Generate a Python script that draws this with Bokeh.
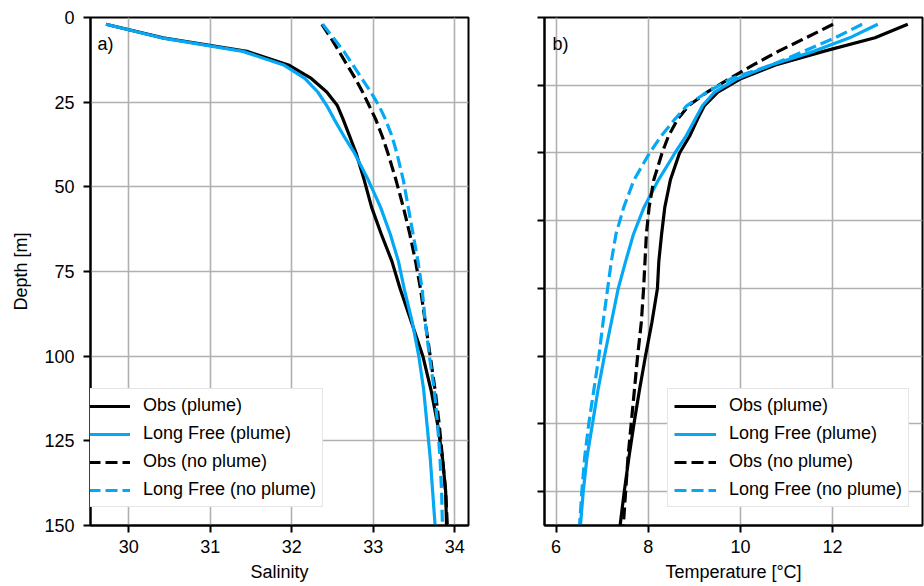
from bokeh.plotting import figure
from bokeh.layouts import row
from bokeh.models import Range1d, FixedTicker, Legend, LegendItem, Label
from bokeh.embed import file_html
from bokeh.resources import INLINE

# ---------------- data ----------------
depth = [2, 6, 10, 14, 18, 22, 26, 30, 35, 40, 48, 56, 64, 72, 80, 90,
         100, 110, 120, 130, 140, 150]

sal_obs_plume = [29.72, 30.42, 31.45, 31.96, 32.24, 32.43, 32.56, 32.63, 32.71,
                 32.79, 32.89, 32.98, 33.10, 33.23, 33.33, 33.47, 33.61, 33.71,
                 33.79, 33.85, 33.89, 33.90]
sal_lf_plume = [29.72, 30.40, 31.40, 31.90, 32.16, 32.32, 32.43, 32.52, 32.64,
                32.77, 32.94, 33.09, 33.21, 33.31, 33.38, 33.48, 33.56, 33.62,
                33.66, 33.70, 33.73, 33.76]
sal_obs_noplume = [32.37, 32.48, 32.58, 32.68, 32.78, 32.87, 32.95, 33.03, 33.11,
                   33.18, 33.28, 33.37, 33.45, 33.52, 33.58, 33.64, 33.70, 33.76,
                   33.81, 33.85, 33.89, 33.91]
sal_lf_noplume = [32.38, 32.51, 32.64, 32.75, 32.86, 32.97, 33.07, 33.15, 33.23,
                  33.29, 33.37, 33.43, 33.49, 33.55, 33.60, 33.64, 33.69, 33.75,
                  33.79, 33.82, 33.84, 33.85]

temp_obs_plume = [13.63, 12.92, 11.80, 10.76, 10.02, 9.51, 9.22, 9.07, 8.90,
                  8.68, 8.48, 8.36, 8.29, 8.23, 8.20, 8.08, 7.94, 7.81, 7.69,
                  7.58, 7.48, 7.39]
temp_lf_plume = [12.98, 12.37, 11.59, 10.67, 9.94, 9.44, 9.18, 9.02, 8.82,
                 8.58, 8.22, 7.91, 7.68, 7.51, 7.35, 7.20, 7.05, 6.91, 6.79,
                 6.67, 6.59, 6.53]
temp_obs_noplume = [12.01, 11.42, 10.82, 10.28, 9.77, 9.28, 8.88, 8.64, 8.44,
                    8.30, 8.12, 8.02, 7.96, 7.93, 7.90, 7.85, 7.77, 7.70, 7.63,
                    7.56, 7.51, 7.46]
temp_lf_noplume = [12.64, 12.05, 11.37, 10.68, 9.81, 9.28, 8.84, 8.58, 8.28,
                   8.03, 7.69, 7.47, 7.30, 7.20, 7.12, 7.02, 6.93, 6.82, 6.71,
                   6.62, 6.56, 6.51]

labels = ["Obs (plume)", "Long Free (plume)", "Obs (no plume)", "Long Free (no plume)"]

sal_ticks = [30, 31, 32, 33, 34]
temp_ticks = [6, 8, 10, 12]
depth_ticks_a = [0, 25, 50, 75, 100, 125, 150]
depth_ticks_b = [0, 20, 40, 60, 80, 100, 120, 140]

# ---------------- styling ----------------
FONT = "Liberation Sans"
FS = "18px"
BLACK = "#000000"
BLUE = "#05A8F5"
GRID = "#b0b0b0"
LW = 3.2
DASH = "12 5"


def make_fig(width, xr, border_left, border_right, xticks, yticks, xlabel,
             ylabel, show_ylabels):
    p = figure(width=width, height=586, x_range=Range1d(*xr),
               y_range=Range1d(150, 0), output_backend="svg",
               toolbar_location=None, min_border_left=border_left,
               min_border_right=border_right, min_border_top=17,
               min_border_bottom=61)
    p.background_fill_color = "white"
    p.border_fill_color = "white"
    p.outline_line_color = BLACK
    p.outline_line_width = 2
    p.outline_line_alpha = 1.0

    p.xaxis.ticker = FixedTicker(ticks=xticks)
    p.yaxis.ticker = FixedTicker(ticks=yticks)
    for ax in (p.xaxis, p.yaxis):
        ax.axis_line_width = 2
        ax.axis_line_color = BLACK
        ax.major_tick_line_width = 2
        ax.major_tick_line_color = BLACK
        ax.major_tick_out = 7
        ax.major_tick_in = 0
        ax.minor_tick_line_color = None
        ax.major_label_text_font = FONT
        ax.major_label_text_font_size = FS
        ax.major_label_text_color = BLACK
        ax.axis_label_text_font = FONT
        ax.axis_label_text_font_size = FS
        ax.axis_label_text_font_style = "normal"
        ax.axis_label_text_color = BLACK
    p.xaxis.axis_label = xlabel
    p.xaxis.major_label_standoff = 7
    p.xaxis.axis_label_standoff = 6
    p.yaxis.major_label_standoff = 9
    if ylabel:
        p.yaxis.axis_label = ylabel
        p.yaxis.axis_label_standoff = 10
    if not show_ylabels:
        p.yaxis.major_label_overrides = {t: "" for t in yticks}
        p.yaxis.major_label_standoff = 0

    p.xgrid.grid_line_color = GRID
    p.ygrid.grid_line_color = GRID
    p.xgrid.grid_line_width = 1.6
    p.ygrid.grid_line_width = 1.6
    return p


def add_lines(p, s1, s2, s3, s4, loc):
    r1 = p.line(s1, depth, line_color=BLACK, line_width=LW)
    r2 = p.line(s2, depth, line_color=BLUE, line_width=LW)
    r3 = p.line(s3, depth, line_color=BLACK, line_width=LW, line_dash=DASH)
    r4 = p.line(s4, depth, line_color=BLUE, line_width=LW, line_dash=DASH)
    items = [LegendItem(label=lab, renderers=[r]) for lab, r in
             zip(labels, [r1, r2, r3, r4])]
    leg = Legend(items=items, location=loc)
    leg.label_text_font = FONT
    leg.label_text_font_size = FS
    leg.label_text_color = BLACK
    leg.glyph_width = 42
    leg.glyph_height = 20
    leg.label_height = 20
    leg.label_standoff = 13
    leg.spacing = 7
    leg.padding = 6
    leg.margin = 0
    leg.border_line_color = "#cccccc"
    leg.border_line_width = 1.5
    leg.background_fill_color = "white"
    leg.background_fill_alpha = 1.0
    p.add_layout(leg)


# ---------------- panel a ----------------
p1 = make_fig(505, (29.53, 34.17), 90, 37, sal_ticks, depth_ticks_a,
              "Salinity", "Depth [m]", True)
add_lines(p1, sal_obs_plume, sal_lf_plume, sal_obs_noplume, sal_lf_noplume,
          (-9, 18))
p1.add_layout(Label(x=7, y=482, x_units="screen", y_units="screen", text="a)",
                    text_font=FONT, text_font_size=FS, text_color=BLACK,
                    text_baseline="middle"))

# ---------------- panel b ----------------
p2 = make_fig(419, (5.75, 13.95), 39, 2, temp_ticks, depth_ticks_b,
              "Temperature [°C]", None, False)
add_lines(p2, temp_obs_plume, temp_lf_plume, temp_obs_noplume, temp_lf_noplume,
          (123, 18))
p2.add_layout(Label(x=8, y=482, x_units="screen", y_units="screen", text="b)",
                    text_font=FONT, text_font_size=FS, text_color=BLACK,
                    text_baseline="middle"))

layout = row(p1, p2)
open("out.html", "w").write(file_html(layout, INLINE))
